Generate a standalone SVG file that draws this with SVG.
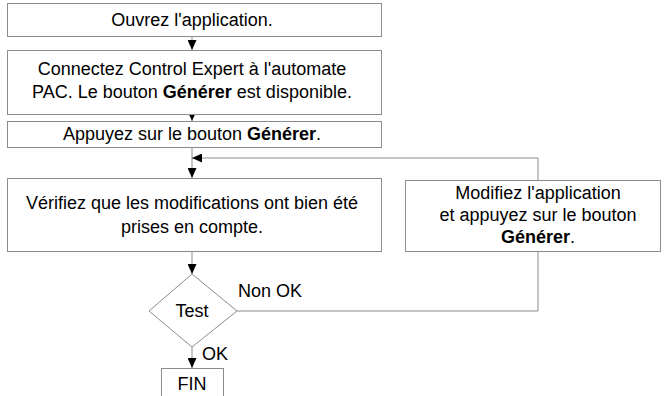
<svg xmlns="http://www.w3.org/2000/svg" width="665" height="396" viewBox="0 0 665 396">
<style>
.box{fill:#fff;stroke:#8c8c8c;stroke-width:1}
.ln{fill:none;stroke:#8c8c8c;stroke-width:1}
text{font-family:"Liberation Sans",Arial,sans-serif;font-size:18px;fill:#000;text-anchor:middle}
.b{font-weight:bold}
.l{text-anchor:start}
</style>
<defs>
<marker id="ah" viewBox="0 0 10 10" refX="10" refY="5" markerWidth="10" markerHeight="9" markerUnits="userSpaceOnUse" orient="auto" preserveAspectRatio="none">
<path d="M0,0 L10,5 L0,10 z" fill="#000"/>
</marker>
</defs>
<g id="connectors">
<line class="ln" x1="192" y1="36" x2="192" y2="50" marker-end="url(#ah)"/>
<line class="ln" x1="192" y1="114" x2="192" y2="121" marker-end="url(#ah)"/>
<line class="ln" x1="192" y1="147" x2="192" y2="178" marker-end="url(#ah)"/>
<polyline class="ln" points="538,180 538,158 192,158" marker-end="url(#ah)"/>
<line class="ln" x1="192" y1="251" x2="192" y2="274" marker-end="url(#ah)"/>
<polyline class="ln" points="237,311 538,311 538,251"/>
<line class="ln" x1="192" y1="347" x2="192" y2="368" marker-end="url(#ah)"/>
<text class="l" x="238" y="297">Non OK</text>
<text class="l" x="202" y="360">OK</text>
</g>
<g id="n1">
<rect class="box" x="7.5" y="3.5" width="374" height="33"/>
<text x="192" y="26">Ouvrez l'application.</text>
</g>
<g id="n2">
<rect class="box" x="7.5" y="50.5" width="374" height="64"/>
<text x="192" y="75">Connectez Control Expert à l'automate</text>
<text x="192" y="98">PAC. Le bouton <tspan class="b">Générer</tspan> est disponible.</text>
</g>
<g id="n3">
<rect class="box" x="7.5" y="121.5" width="374" height="26"/>
<text x="192" y="140">Appuyez sur le bouton <tspan class="b">Générer</tspan>.</text>
</g>
<g id="n4">
<rect class="box" x="7.5" y="178.5" width="374" height="73"/>
<text x="192" y="209">Vérifiez que les modifications ont bien été</text>
<text x="192" y="233">prises en compte.</text>
</g>
<g id="n5">
<rect class="box" x="405.5" y="180.5" width="255" height="71"/>
<text x="538" y="199">Modifiez l'application</text>
<text x="538" y="221">et appuyez sur le bouton</text>
<text x="538" y="243"><tspan class="b">Générer</tspan>.</text>
</g>
<g id="n6">
<polygon class="box" points="192,274 237,311 192,347 149,311"/>
<text x="192" y="317">Test</text>
</g>
<g id="n7">
<rect class="box" x="161.5" y="368.5" width="62" height="30"/>
<text x="192" y="390">FIN</text>
</g>
</svg>
